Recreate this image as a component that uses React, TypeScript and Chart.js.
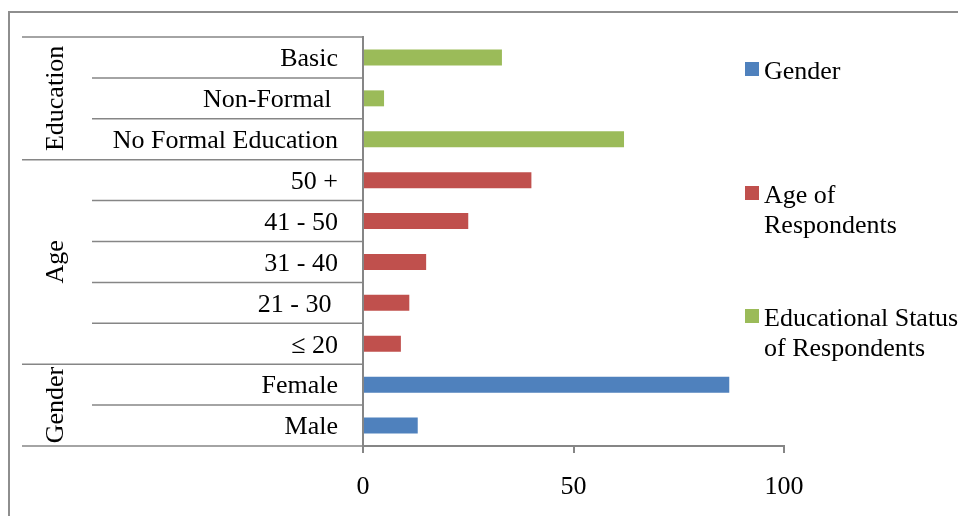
import React, { useEffect, useRef } from 'react';
import { Chart, registerables } from 'chart.js';

Chart.register(...registerables);

// Category rows, top to bottom
const categories = [
  'Basic',
  'Non-Formal ',
  'No Formal Education',
  '50 +',
  '41 - 50',
  '31 - 40',
  '21 - 30 ',
  '≤ 20',
  'Female',
  'Male',
];

// Group captions on the far left and how many rows each spans
const groupNames = ['Education', 'Age', 'Gender'];
const groupSizes = [3, 5, 2];

// Percentages per series (null where the row belongs to another group)
const genderValues = [null, null, null, null, null, null, null, null, 87, 13];
const ageValues = [null, null, null, 40, 25, 15, 11, 9, null, null];
const educationValues = [33, 5, 62, null, null, null, null, null, null, null];

const seriesLabels = [
  ['Gender'],
  ['Age of', 'Respondents'],
  ['Educational Status', 'of Respondents'],
];
const seriesColors = ['#4F81BD', '#C0504D', '#9BBB59'];

const xMin = 0;
const xMax = 100;
const xStep = 50;

const FONT_FAMILY = '"Liberation Serif", "Times New Roman", serif';
const FONT = `26px ${FONT_FAMILY}`;
const LINE = '#868686';

// Legend entry positions (first-line baselines)
const legendBaselines = [79, 203, 326];

const decorPlugin = {
  id: 'decor',
  beforeDraw(chart: any) {
    const ctx = chart.ctx;
    ctx.save();
    ctx.fillStyle = '#ffffff';
    ctx.fillRect(0, 0, chart.width, chart.height);
    // outer frame
    ctx.strokeStyle = '#8e8e8e';
    ctx.lineWidth = 2;
    ctx.beginPath();
    ctx.moveTo(9, chart.height + 5);
    ctx.lineTo(9, 12);
    ctx.lineTo(chart.width + 5, 12);
    ctx.stroke();
    ctx.restore();
  },
  afterDraw(chart: any) {
    const ctx = chart.ctx;
    const y = chart.scales.y;
    const axisX = chart.chartArea.left;
    const n = categories.length;
    const boundary = (i: number) => {
      if (i === 0) return y.top;
      if (i === n) return y.bottom;
      return (y.getPixelForTick(i - 1) + y.getPixelForTick(i)) / 2;
    };

    const groupStarts = new Set<number>([0]);
    let acc = 0;
    for (const s of groupSizes) {
      acc += s;
      groupStarts.add(acc);
    }

    ctx.save();
    // row separators; group boundaries reach further left
    ctx.strokeStyle = LINE;
    ctx.lineWidth = 1.5;
    for (let i = 0; i <= n; i++) {
      const py = boundary(i);
      const x0 = groupStarts.has(i) ? 22 : 92;
      ctx.beginPath();
      ctx.moveTo(x0, py);
      ctx.lineTo(axisX, py);
      ctx.stroke();
    }

    // rotated group captions
    ctx.fillStyle = '#000';
    ctx.font = FONT;
    ctx.textAlign = 'center';
    ctx.textBaseline = 'alphabetic';
    let start = 0;
    groupNames.forEach((name, gi) => {
      const end = start + groupSizes[gi];
      const cy = (boundary(start) + boundary(end)) / 2;
      ctx.save();
      ctx.translate(63, cy);
      ctx.rotate(-Math.PI / 2);
      ctx.fillText(name, 0, 0);
      ctx.restore();
      start = end;
    });

    // legend
    ctx.textAlign = 'left';
    chart.data.datasets.forEach((ds: any, di: number) => {
      const base = legendBaselines[di];
      ctx.fillStyle = ds.backgroundColor;
      ctx.fillRect(745, base - 17, 14, 14);
      ctx.fillStyle = '#000';
      const lines: string[] = Array.isArray(ds.label) ? ds.label : [ds.label];
      lines.forEach((t, li) => ctx.fillText(t, 764, base + li * 30));
    });
    ctx.restore();
  },
};

export default function App() {
  const canvasRef = useRef<HTMLCanvasElement | null>(null);

  useEffect(() => {
    const canvas = canvasRef.current;
    if (!canvas) return;
    Chart.defaults.font.family = FONT_FAMILY;

    const chart = new Chart(canvas, {
      type: 'bar',
      data: {
        labels: categories,
        datasets: [
          { label: seriesLabels[0] as any, data: genderValues as any, backgroundColor: seriesColors[0] },
          { label: seriesLabels[1] as any, data: ageValues as any, backgroundColor: seriesColors[1] },
          { label: seriesLabels[2] as any, data: educationValues as any, backgroundColor: seriesColors[2] },
        ],
      },
      options: {
        responsive: false,
        animation: false,
        indexAxis: 'y',
        layout: { padding: { top: 37, right: 174, left: 0, bottom: 0 } },
        datasets: {
          bar: { grouped: false, categoryPercentage: 1, barPercentage: 0.39 },
        } as any,
        plugins: {
          legend: { display: false },
          tooltip: { enabled: false },
        },
        scales: {
          x: {
            min: xMin,
            max: xMax,
            ticks: { stepSize: xStep, color: '#000', padding: 19, font: { size: 26 } },
            grid: { drawOnChartArea: false, drawTicks: true, tickLength: 7, color: LINE, lineWidth: 2 },
            border: { display: true, color: LINE, width: 2 },
            afterFit: (s: any) => {
              s.height = 70;
            },
          },
          y: {
            ticks: { color: '#000', padding: 17, labelOffset: 2, autoSkip: false, font: { size: 26 } },
            grid: { display: false },
            border: { display: true, color: LINE, width: 2 },
            afterFit: (s: any) => {
              s.width = 363;
              s.paddingTop = 0;
              s.paddingBottom = 0;
            },
          },
        },
      },
      plugins: [decorPlugin],
    });

    return () => chart.destroy();
  }, []);

  return (
    <div style={{ position: 'fixed', left: 0, top: 0, width: 958, height: 516, background: '#fff' }}>
      <canvas ref={canvasRef} width={958} height={516} style={{ display: 'block' }} />
    </div>
  );
}
